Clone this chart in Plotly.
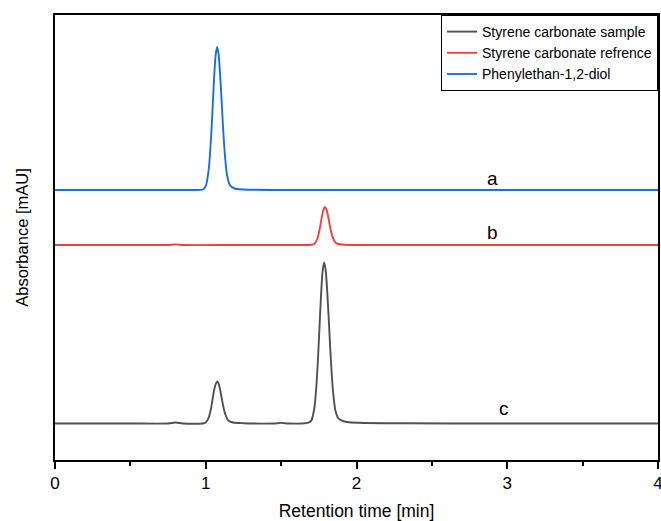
import plotly.graph_objects as go

# Retention times (min) and signal above each trace's baseline (arbitrary units)
t_sample = [0.00, 0.50, 0.75, 0.80, 0.85, 0.98, 1.00, 1.02, 1.035, 1.045, 1.055, 1.065, 1.075, 1.085,
            1.095, 1.105, 1.115, 1.13, 1.15, 1.18, 1.25, 1.45, 1.50, 1.55, 1.64, 1.68, 1.70, 1.72,
            1.735, 1.745, 1.755, 1.765, 1.775, 1.785, 1.795, 1.805, 1.815, 1.825, 1.835, 1.845,
            1.86, 1.88, 1.91, 1.95, 2.05, 2.30, 3.00, 4.00]
y_sample = [0, 0, 0, 1.0, 0, 0, 1, 6, 15, 24, 33, 39, 42, 40,
            34, 26, 18, 9, 3, 1, 0.3, 0, 0.6, 0, 0, 0.8, 2.9, 15,
            40, 66, 98, 129, 152, 161, 154, 134, 107, 77, 51, 31,
            13, 5, 2.5, 1.2, 0.5, 0.2, 0, 0]

t_ref = [0.00, 0.50, 0.75, 0.80, 0.85, 1.20, 1.65, 1.70, 1.72, 1.74, 1.75, 1.76, 1.77, 1.78,
         1.79, 1.80, 1.81, 1.82, 1.83, 1.84, 1.86, 1.88, 1.92, 2.00, 3.00, 4.00]
y_ref = [0, 0, 0, 0.6, 0, 0, 0, 0.3, 1, 6, 11.6, 19.5, 28, 35,
         38, 36, 30, 22, 14.7, 8.6, 2.5, 1, 0.3, 0, 0, 0]

t_diol = [0.00, 0.50, 0.90, 0.98, 1.00, 1.02, 1.035, 1.045, 1.055, 1.065, 1.075, 1.085, 1.095,
          1.105, 1.115, 1.125, 1.14, 1.16, 1.19, 1.25, 1.50, 2.00, 3.00, 4.00]
y_diol = [0, 0, 0, 0.5, 4, 21, 52, 80, 111, 134, 143, 136, 116,
          90, 62, 39, 16, 5, 1.5, 0.5, 0, 0, 0, 0]

names = ["Styrene carbonate sample", "Styrene carbonate refrence", "Phenylethan-1,2-diol"]
offsets = [36.5, 215, 270]
colors = ["#515151", "#F14040", "#1A6FDF"]
labels = ["c", "b", "a"]
label_x = [2.98, 2.9, 2.9]
label_y = [52, 228, 282]

series = [(t_sample, y_sample), (t_ref, y_ref), (t_diol, y_diol)]

fig = go.Figure()
for (t, y), name, off, col in zip(series, names, offsets, colors):
    fig.add_trace(go.Scatter(
        x=t, y=[v + off for v in y], name=name, mode="lines",
        line=dict(color=col, width=1.9, shape="spline", smoothing=0.6),
    ))

for lab, lx, ly in zip(labels, label_x, label_y):
    fig.add_annotation(x=lx, y=ly, text=lab, showarrow=False,
                       font=dict(family="Liberation Sans, Arial", size=19, color="black"))

fig.update_layout(
    width=661, height=521,
    margin=dict(l=55, r=3, t=15, b=61),
    plot_bgcolor="white", paper_bgcolor="white",
    font=dict(family="Liberation Sans, Arial", color="black"),
    showlegend=True,
    legend=dict(x=1, y=1, xanchor="right", yanchor="top",
                bgcolor="white", bordercolor="black", borderwidth=1,
                font=dict(size=14, family="Liberation Sans, Arial"),
                tracegroupgap=0, itemwidth=30),
    xaxis=dict(range=[0, 4], tickvals=[0, 1, 2, 3, 4], ticks="outside", ticklen=7,
               tickwidth=1.5, tickcolor="black", automargin=False,
               ticklabeloverflow="allow",
               minor=dict(tickvals=[0.5, 1.5, 2.5, 3.5], ticks="outside", ticklen=4,
                          tickwidth=1.5, tickcolor="black"),
               showline=True, linecolor="black", linewidth=1.5, mirror=True,
               showgrid=False, zeroline=False,
               tickfont=dict(size=17),
               title=dict(text="Retention time [min]", font=dict(size=17.5), standoff=16)),
    yaxis=dict(range=[0, 445], showticklabels=False, ticks="", automargin=False,
               showline=True, linecolor="black", linewidth=1.5, mirror=True,
               showgrid=False, zeroline=False,
               title=dict(text="Absorbance [mAU]", font=dict(size=16.5), standoff=20)),
)

fig.write_html("out.html")
